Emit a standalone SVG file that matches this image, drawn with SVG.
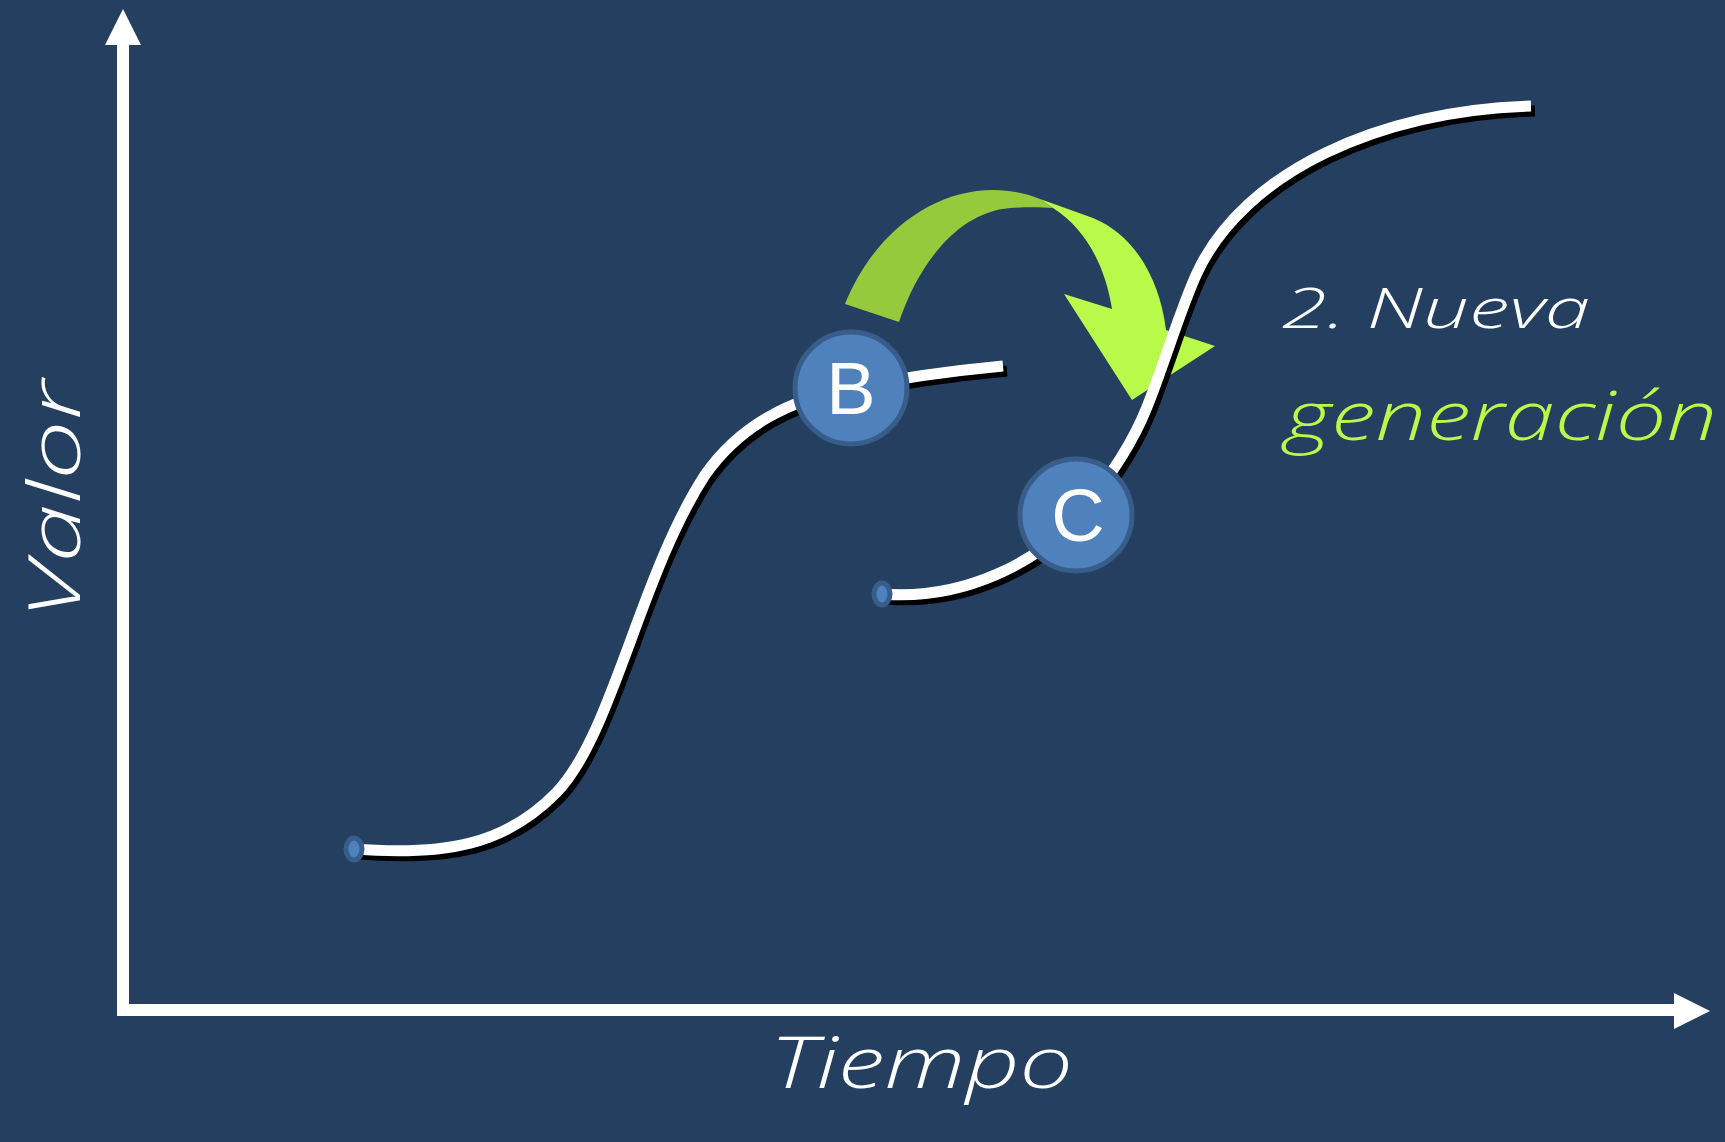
<svg xmlns="http://www.w3.org/2000/svg" width="1725" height="1142" viewBox="0 0 1725 1142">
<defs>
<style>
.curve{fill:none;stroke:#ffffff;stroke-width:11;stroke-linecap:butt}
.shadow{fill:none;stroke:#000000;stroke-width:11}
.node{fill:#4f81bd;stroke:#385d8a;stroke-width:5}
.end{fill:#4f81bd;stroke:#385d8a;stroke-width:5}
.lbl{font-family:"Liberation Sans",Arial,sans-serif;font-size:74px;fill:#ffffff;text-anchor:middle}
.hand{font-family:"Open Sans","DejaVu Sans",sans-serif;font-style:italic;font-weight:300}
.axis{fill:#ffffff}
</style>
<path id="c1" d="M354,849 C445,856 505,845 556,793 C612,736 640,575 705,475 C740,425 790,400 850,388 C900,378 950,371 1003,366"/>
<path id="c2" d="M882,594 C965,601 1040,560 1076,518 C1100,490 1130,450 1147,407 C1165,362 1180,310 1197,273 C1244,172 1380,110 1531,106"/>
</defs>
<rect width="1725" height="1142" fill="#243f60"/>
<g id="axes">
<rect class="axis" x="117" y="40" width="12" height="976"/>
<polygon class="axis" points="123,9 141,45 105,45"/>
<rect class="axis" x="117" y="1004" width="1560" height="12"/>
<polygon class="axis" points="1710,1011 1674,993 1674,1029"/>
</g>
<g id="arrow">
<path d="M845,304 C875,230 935,190 993,190 C1012,190 1028,194 1040,199 L1053,208 C1040,207 1025,207 1010,208 C960,212 920,260 899,322 Z" fill="#97c93d"/>
<path d="M1040,199 L1093,218 C1135,235 1160,280 1166,330 L1215,346 L1132,400 L1064,294 L1112,309 C1105,265 1085,228 1053,208 Z" fill="#b8f94a"/>
</g>
<g id="connectors">
<use href="#c1" class="shadow" transform="translate(4,5)"/>
<use href="#c2" class="shadow" transform="translate(4,5)"/>
<use href="#c1" class="curve"/>
<use href="#c2" class="curve"/>
</g>
<g id="start1"><ellipse class="end" cx="354" cy="849" rx="8" ry="11"/></g>
<g id="start2"><ellipse class="end" cx="882" cy="594" rx="8" ry="11"/></g>
<g id="nodeB">
<circle class="node" cx="851" cy="388" r="56"/>
<text class="lbl" x="851" y="414">B</text>
</g>
<g id="nodeC">
<circle class="node" cx="1076" cy="515" r="56"/>
<text class="lbl" x="1078" y="541">C</text>
</g>
<g id="labels">
<text class="hand" x="1282" y="328" font-size="56" fill="#ffffff" textLength="308" lengthAdjust="spacingAndGlyphs">2. Nueva</text>
<text class="hand" x="1285" y="440" font-size="68" fill="#b8f94a" textLength="432" lengthAdjust="spacingAndGlyphs">generación</text>
<text class="hand" x="770" y="1088" font-size="72" fill="#ffffff" textLength="303" lengthAdjust="spacingAndGlyphs">Tiempo</text>
<text class="hand" transform="translate(80,620) rotate(-90)" x="0" y="0" font-size="72" fill="#ffffff" textLength="240" lengthAdjust="spacingAndGlyphs">Valor</text>
</g>
</svg>
